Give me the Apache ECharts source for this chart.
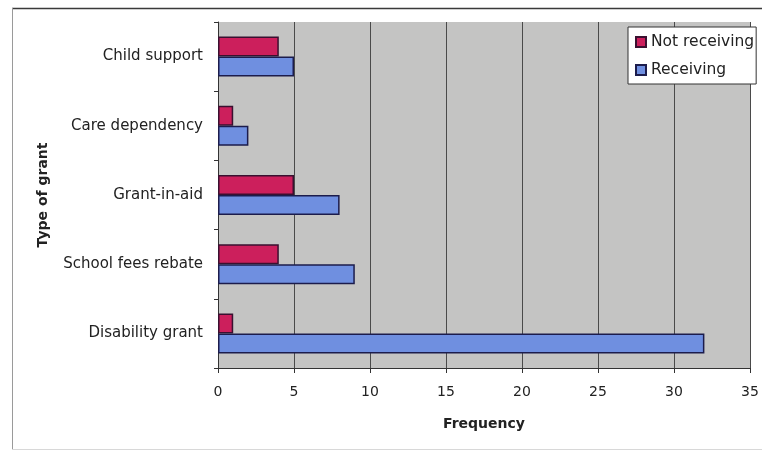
<!DOCTYPE html>
<html>
<head>
<meta charset="utf-8">
<style>
  html, body { margin: 0; padding: 0; background: #ffffff; }
  #chart { width: 762px; height: 452px; }
</style>
<script src="https://cdn.jsdelivr.net/npm/echarts@6/dist/echarts.min.js"></script>
</head>
<body>
<div id="chart"></div>
<script>
// Grant types, listed bottom to top along the category axis
const categories = ['Disability grant', 'School fees rebate', 'Grant-in-aid', 'Care dependency', 'Child support'];
// Frequency of respondents per grant type
const notReceiving = [1, 4, 5, 1, 4];
const receiving = [32, 9, 8, 2, 5];
// Frequency axis ticks
const freqMin = 0;
const freqMax = 35;
const freqStep = 5;

const chart = echarts.init(document.getElementById('chart'), null, { renderer: 'canvas' });

const FONT = 'DejaVu Sans, Verdana, sans-serif';

chart.setOption({
  animation: false,
  backgroundColor: '#ffffff',
  graphic: [
    // outer frame around the chart
    { type: 'line', shape: { x1: 12, y1: 8.5, x2: 762, y2: 8.5 }, style: { stroke: '#3a3a3a', lineWidth: 1.5 } },
    { type: 'line', shape: { x1: 12.5, y1: 8, x2: 12.5, y2: 450 }, style: { stroke: '#9a9a9a', lineWidth: 1 } },
    { type: 'line', shape: { x1: 12, y1: 449.5, x2: 762, y2: 449.5 }, style: { stroke: '#d8d8d8', lineWidth: 1 } }
  ],
  grid: {
    left: 218, right: 12, top: 22, bottom: 84,
    show: true,
    backgroundColor: '#c4c4c3',
    borderWidth: 0
  },
  legend: {
    orient: 'vertical',
    left: 628,
    top: 27,
    data: ['Not receiving', 'Receiving'],
    backgroundColor: '#ffffff',
    borderColor: '#333333',
    borderWidth: 1,
    padding: [7, 2, 6, 7],
    itemGap: 12,
    itemWidth: 10,
    itemHeight: 10,
    icon: 'rect',
    textStyle: { fontFamily: FONT, fontSize: 15.5, color: '#222222' }
  },
  xAxis: {
    type: 'value',
    min: freqMin,
    max: freqMax,
    interval: freqStep,
    name: 'Frequency',
    nameLocation: 'middle',
    nameGap: 49,
    nameTextStyle: { fontFamily: FONT, fontWeight: 'bold', fontSize: 14, color: '#222222' },
    axisLine: { show: true, lineStyle: { color: '#333333', width: 1 } },
    axisTick: { show: true, length: 5, lineStyle: { color: '#333333' } },
    axisLabel: { margin: 17, fontFamily: FONT, fontSize: 14, color: '#222222' },
    splitLine: { show: true, lineStyle: { color: '#4a4a4a', width: 1 } }
  },
  yAxis: {
    type: 'category',
    data: categories,
    name: 'Type of grant',
    nameLocation: 'middle',
    nameGap: 168,
    nameRotate: 90,
    nameTextStyle: { fontFamily: FONT, fontWeight: 'bold', fontSize: 14, color: '#222222' },
    axisLine: { show: true, lineStyle: { color: '#333333', width: 1 } },
    axisTick: { show: true, length: 4, lineStyle: { color: '#333333' } },
    axisLabel: { margin: 15, fontFamily: FONT, fontSize: 15, color: '#222222' },
    splitLine: { show: false }
  },
  series: [
    {
      name: 'Not receiving',
      type: 'bar',
      data: notReceiving,
      barWidth: 20,
      barGap: '0%',
      itemStyle: { color: '#cc1f5c', borderColor: '#3a1030', borderWidth: 1.5 }
    },
    {
      name: 'Receiving',
      type: 'bar',
      data: receiving,
      barWidth: 20,
      barGap: '0%',
      itemStyle: { color: '#6f8fe0', borderColor: '#1c1c4c', borderWidth: 1.5 }
    }
  ]
});
</script>
</body>
</html>
